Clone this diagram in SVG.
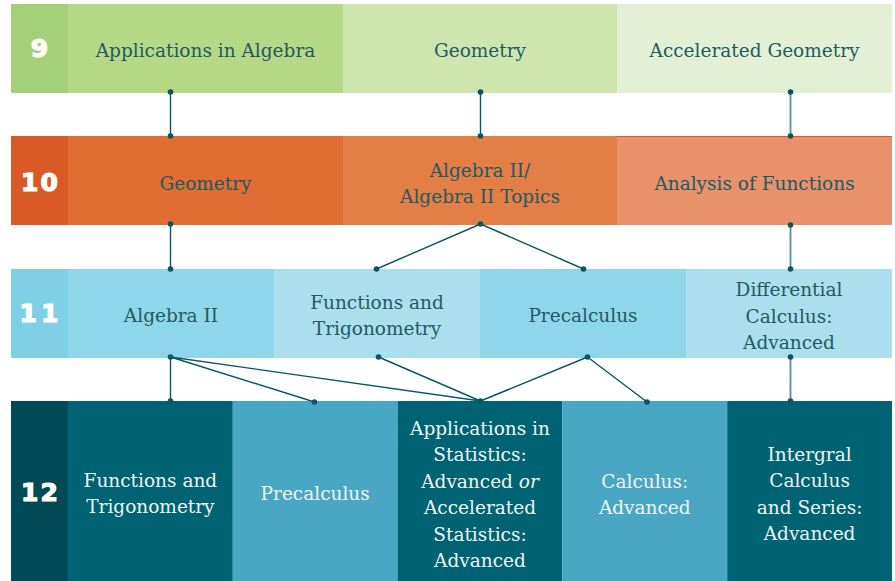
<svg xmlns="http://www.w3.org/2000/svg" width="895" height="581" viewBox="0 0 895 581">
<style>
.t{font-family:"DejaVu Serif","Liberation Serif",serif;font-size:18.5px;text-anchor:middle;fill:#1f5a62}
.w{fill:#eef4f5}
.g{font-family:"DejaVu Sans","Liberation Sans",sans-serif;font-weight:900;font-size:25px;text-anchor:middle;fill:#ffffff;stroke:#ffffff;stroke-width:1.2}
.c{stroke:#0d5562;stroke-width:1.4;fill:none}
.cl{stroke:#5b8f97;stroke-width:1.8;fill:none}
.d{fill:#0d5562}
</style>
<rect width="895" height="581" fill="#ffffff"/>
<!-- Grade 9 -->
<g id="grade9"><rect x="11" y="4" width="57" height="89" fill="#a4d07a"/><text class="g" x="39.5" y="57">9</text></g>
<g id="g9-applications-algebra"><rect x="68" y="4" width="275" height="89" fill="#b5d886"/><text class="t" x="205.5" y="57">Applications in Algebra</text></g>
<g id="g9-geometry"><rect x="343" y="4" width="274" height="89" fill="#cfe5ae"/><text class="t" x="480" y="57">Geometry</text></g>
<g id="g9-accel-geometry"><rect x="617" y="4" width="275" height="89" fill="#e4f0d6"/><text class="t" x="754.5" y="57">Accelerated Geometry</text></g>
<!-- Grade 10 -->
<g id="grade10"><rect x="11" y="136" width="57" height="89" fill="#da5a27"/><text class="g" x="40.5" y="191" letter-spacing="2">10</text></g>
<g id="g10-geometry"><rect x="68" y="136" width="275" height="89" fill="#e06d34"/><text class="t" x="205.5" y="190">Geometry</text></g>
<g id="g10-algebra2"><rect x="343" y="136" width="274" height="89" fill="#e27e46"/><text class="t" x="480" y="177">Algebra II/</text><text class="t" x="480" y="203">Algebra II Topics</text></g>
<g id="g10-analysis"><rect x="617" y="136" width="275" height="89" fill="#e8916a"/><rect x="617" y="136" width="275" height="1" fill="#e05a28"/><text class="t" x="754.5" y="190">Analysis of Functions</text></g>
<!-- Grade 11 -->
<g id="grade11"><rect x="11" y="269" width="57" height="89" fill="#7fd0e7"/><text class="g" x="41" y="322" letter-spacing="4">11</text></g>
<g id="g11-algebra2"><rect x="68" y="269" width="206" height="89" fill="#8fd6ea"/><text class="t" x="171" y="322">Algebra II</text></g>
<g id="g11-functions-trig"><rect x="274" y="269" width="206" height="89" fill="#abdfed"/><text class="t" x="377" y="309">Functions and</text><text class="t" x="377" y="335">Trigonometry</text></g>
<g id="g11-precalc"><rect x="480" y="269" width="206" height="89" fill="#8fd6ea"/><text class="t" x="583" y="322">Precalculus</text></g>
<g id="g11-differential"><rect x="686" y="269" width="206" height="89" fill="#abdfed"/><text class="t" x="789" y="296">Differential</text><text class="t" x="789" y="322.5">Calculus:</text><text class="t" x="789" y="349">Advanced</text></g>
<!-- Grade 12 -->
<g id="grade12"><rect x="11" y="401" width="57" height="180" fill="#004a57"/><text class="g" x="40.5" y="501" letter-spacing="2">12</text></g>
<g id="g12-functions-trig"><rect x="68" y="401" width="164.8" height="180" fill="#006373"/><text class="t w" x="150.4" y="487">Functions and</text><text class="t w" x="150.4" y="513">Trigonometry</text></g>
<g id="g12-precalc"><rect x="232.8" y="401" width="164.8" height="180" fill="#4aa7c3"/><text class="t w" x="315.2" y="500">Precalculus</text></g>
<g id="g12-statistics"><rect x="397.6" y="401" width="164.8" height="180" fill="#006373"/><text class="t w" x="480" y="434.5">Applications in</text><text class="t w" x="480" y="461">Statistics:</text><text class="t w" x="480" y="487.5">Advanced <tspan font-style="italic">or</tspan></text><text class="t w" x="480" y="514">Accelerated</text><text class="t w" x="480" y="540.5">Statistics:</text><text class="t w" x="480" y="567">Advanced</text></g>
<g id="g12-calculus"><rect x="562.4" y="401" width="164.8" height="180" fill="#4aa7c3"/><text class="t w" x="644.8" y="488">Calculus:</text><text class="t w" x="644.8" y="514">Advanced</text></g>
<g id="g12-integral"><rect x="727.2" y="401" width="164.8" height="180" fill="#006373"/><text class="t w" x="809.6" y="460.5">Intergral</text><text class="t w" x="809.6" y="487">Calculus</text><text class="t w" x="809.6" y="513.5">and Series:</text><text class="t w" x="809.6" y="540">Advanced</text></g>
<!-- Connectors -->
<g id="connectors">
<path class="c" d="M170.5 92V136M480.5 92V136"/>
<path class="cl" d="M790.5 92V136"/>
<path class="c" d="M170.5 224V269M480.5 224L376.5 269M480.5 224L583.5 269"/>
<path class="cl" d="M790.5 225V269"/>
<path class="c" d="M170.5 357V401M170.5 357L314.5 402M170.5 357L480.5 401M378.5 357L480.5 401M587.5 357L480.5 401M587.5 357L647 402"/>
<path class="cl" d="M790.5 357V401"/>
<g class="d">
<circle cx="170.5" cy="92" r="2.8"/><circle cx="170.5" cy="136" r="2.8"/>
<circle cx="480.5" cy="92" r="2.8"/><circle cx="480.5" cy="136" r="2.8"/>
<circle cx="790.5" cy="92" r="2.8"/><circle cx="790.5" cy="136" r="2.8"/>
<circle cx="170.5" cy="224" r="2.8"/><circle cx="170.5" cy="269" r="2.8"/>
<circle cx="480.5" cy="224" r="2.8"/><circle cx="376.5" cy="269" r="2.8"/><circle cx="583.5" cy="269" r="2.8"/>
<circle cx="790.5" cy="225" r="2.8"/><circle cx="790.5" cy="269" r="2.8"/>
<circle cx="170.5" cy="357" r="2.8"/><circle cx="170.5" cy="401" r="2.8"/><circle cx="314.5" cy="402" r="2.8"/>
<circle cx="378.5" cy="357" r="2.8"/><circle cx="480.5" cy="401" r="2.8"/>
<circle cx="587.5" cy="357" r="2.8"/><circle cx="647" cy="402" r="2.8"/>
<circle cx="790.5" cy="357" r="2.8"/><circle cx="790.5" cy="401" r="2.8"/>
</g>
</g>
</svg>
